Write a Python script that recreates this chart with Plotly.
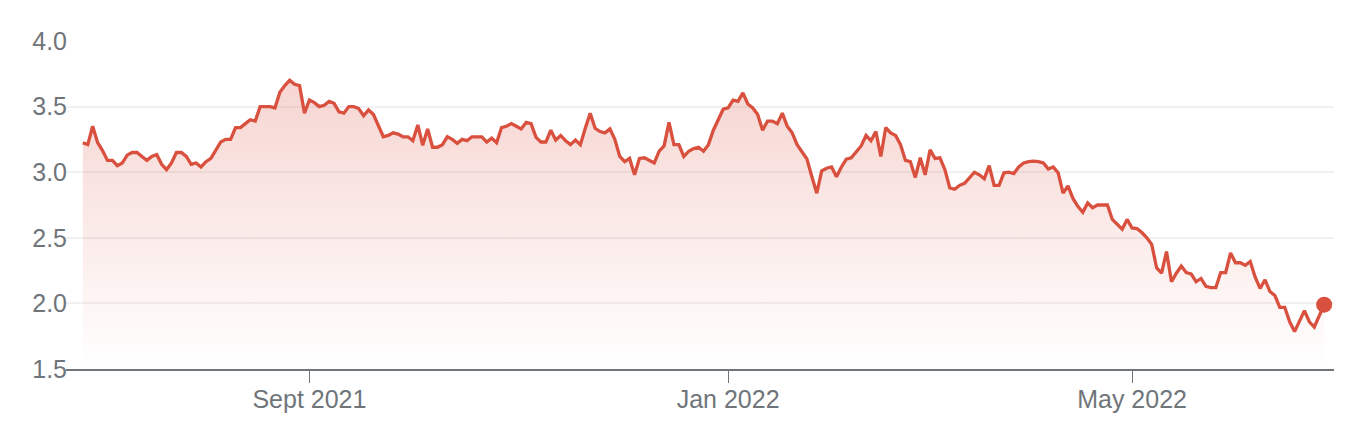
import pandas as pd
import plotly.graph_objects as go

# ---- data ----
start_date = "2021-06-28"
end_date = "2022-06-28"
market_holidays = ["2021-07-05", "2021-09-06", "2021-11-25", "2021-12-24",
                   "2022-01-17", "2022-02-21", "2022-04-15", "2022-05-30", "2022-06-20"]

prices_part1 = [
    3.225, 3.21, 3.35, 3.225, 3.165, 3.09, 3.09, 3.05, 3.07, 3.13,
    3.15, 3.15, 3.12, 3.09, 3.12, 3.135, 3.06, 3.02, 3.07, 3.15,
    3.15, 3.12, 3.06, 3.07, 3.04, 3.08, 3.105, 3.17, 3.23, 3.25,
    3.25, 3.34, 3.34, 3.37, 3.40, 3.39, 3.50, 3.50, 3.50, 3.49,
    3.61, 3.66, 3.70, 3.67, 3.66, 3.45, 3.55, 3.53, 3.50, 3.51,
    3.54, 3.525, 3.46, 3.45, 3.50, 3.50, 3.485, 3.43, 3.475, 3.44,
    3.35, 3.27, 3.28, 3.30, 3.29, 3.27, 3.27, 3.24, 3.36, 3.205,
    3.33, 3.19, 3.19, 3.21, 3.27, 3.25, 3.22,
]
prices_part2 = [
    3.25, 3.24, 3.27, 3.27, 3.27, 3.23, 3.26, 3.225, 3.34, 3.35,
    3.37, 3.35, 3.33, 3.38, 3.37, 3.265, 3.23, 3.23, 3.32, 3.245,
    3.28, 3.24, 3.21, 3.245, 3.21, 3.335, 3.45, 3.335, 3.31, 3.30,
    3.33, 3.25, 3.12, 3.08, 3.105, 2.98, 3.105, 3.11, 3.09, 3.07,
    3.16, 3.20, 3.38, 3.21, 3.21, 3.12, 3.16, 3.18, 3.19, 3.16,
    3.21, 3.32, 3.40, 3.48, 3.49, 3.55, 3.54, 3.605, 3.52, 3.49,
    3.44, 3.32, 3.39, 3.39, 3.37, 3.45, 3.35, 3.30, 3.21, 3.16,
    3.10, 2.965, 2.84, 3.01, 3.03, 3.04, 2.965, 3.04, 3.10, 3.11,
    3.16, 3.20, 3.28, 3.24, 3.31, 3.12, 3.34, 3.30, 3.28,
]
prices_part3 = [
    3.21, 3.09, 3.08, 2.96, 3.11, 2.98, 3.17, 3.105, 3.11, 3.02,
    2.88, 2.87, 2.90, 2.915, 2.96, 3.00, 2.98, 2.95, 3.05, 2.90,
    2.90, 2.995, 3.00, 2.99, 3.04, 3.07, 3.08, 3.085, 3.08, 3.07,
    3.025, 3.04, 2.995, 2.84, 2.895, 2.80, 2.74, 2.695, 2.765, 2.73,
    2.75, 2.75, 2.75, 2.64, 2.60, 2.565, 2.64, 2.575, 2.57, 2.54,
    2.50, 2.45, 2.27, 2.23, 2.395, 2.165, 2.23, 2.285, 2.235, 2.225,
    2.165, 2.19, 2.13, 2.12, 2.12, 2.235, 2.235, 2.385, 2.31, 2.31,
    2.29, 2.32, 2.20, 2.115, 2.18, 2.09, 2.06, 1.97, 1.97, 1.86,
    1.785, 1.86, 1.945, 1.86, 1.82, 1.905, 1.99,
]
prices = prices_part1 + prices_part2 + prices_part3

tick_dates = ["2021-09-01", "2022-01-03", "2022-05-02"]
tick_labels = ["Sept 2021", "Jan 2022", "May 2022"]
y_ticks = [1.5, 2.0, 2.5, 3.0, 3.5, 4.0]
y_labels = ["1.5", "2.0", "2.5", "3.0", "3.5", "4.0"]

# ---- trading-day dates ----
dates = pd.bdate_range(start_date, end_date, freq="C", holidays=market_holidays)
n = min(len(dates), len(prices))
dates = dates[:n]
prices = prices[:n]

LINE = "#d9503f"
GREY = "#70757a"
FONT = "Arial, 'Liberation Sans', sans-serif"

fig = go.Figure()
fig.add_trace(go.Scatter(
    x=dates, y=prices, mode="lines",
    line=dict(color=LINE, width=3.3),
    fill="tozeroy",
    fillgradient=dict(
        type="vertical",
        start=1.5, stop=3.72,
        colorscale=[[0, "rgba(217,80,63,0)"], [1, "rgba(217,80,63,0.24)"]],
    ),
    hoverinfo="skip", showlegend=False,
))
fig.add_trace(go.Scatter(
    x=[dates[-1]], y=[prices[-1]], mode="markers",
    marker=dict(color=LINE, size=16),
    hoverinfo="skip", showlegend=False,
))

# the page body adds an 8px margin, so the figure is sized to fit inside it
fig.update_layout(
    width=1356, height=424,
    margin=dict(l=58, r=30, t=33, b=63),
    paper_bgcolor="white", plot_bgcolor="white",
    font=dict(family=FONT, size=25, color=GREY),
    showlegend=False,
)
fig.update_xaxes(
    type="date",
    range=["2021-06-22 14:00", "2022-06-30 00:00"],
    rangebreaks=[dict(bounds=["sat", "mon"]), dict(values=market_holidays)],
    tickmode="array", tickvals=tick_dates, ticktext=tick_labels,
    ticks="outside", ticklen=12, tickwidth=1, tickcolor=GREY,
    ticklabelstandoff=-5,
    showline=True, linecolor=GREY, linewidth=2,
    showgrid=False, zeroline=False,
    tickfont=dict(family=FONT, size=25, color=GREY),
)
fig.update_yaxes(
    range=[1.5, 4.0],
    tickmode="array", tickvals=y_ticks, ticktext=y_labels,
    ticks="", showline=False,
    ticklabelstandoff=-2,
    showgrid=True, gridcolor="#f1f1f1", gridwidth=2,
    zeroline=False,
    tickfont=dict(family=FONT, size=25, color=GREY),
)

fig.write_html("out.html", config={"displayModeBar": False})
